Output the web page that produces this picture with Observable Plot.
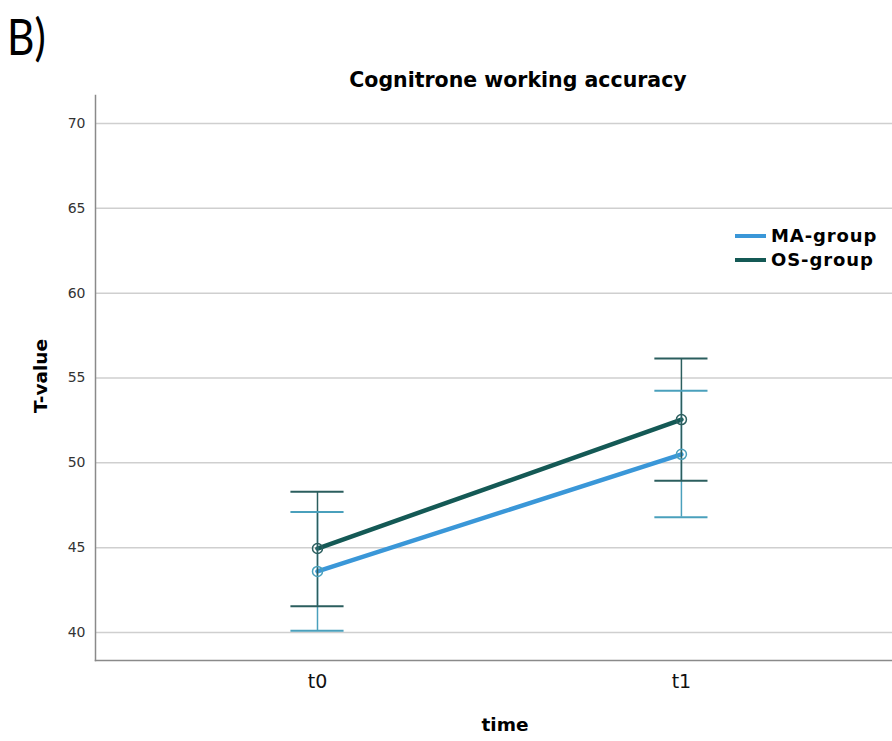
<!DOCTYPE html>
<html>
<head>
<meta charset="utf-8">
<script src="https://cdn.jsdelivr.net/npm/d3@7"></script>
<script src="https://cdn.jsdelivr.net/npm/@observablehq/plot@0.6"></script>
<style>
  body { margin: 0; background: #fff; }
  #wrap { position: relative; width: 892px; height: 741px; overflow: hidden; font-family: "DejaVu Sans", sans-serif; }
  #wrap svg { position: absolute; left: 0; top: 0; }
  .abs { position: absolute; white-space: nowrap; color: #000; }
  #panel { left: 7px; top: 6px; font-family: Lato, "Open Sans", sans-serif; font-size: 50px; line-height: 60px; transform: scaleX(0.85); transform-origin: left top; }
  #title { left: 0; width: 1036px; top: 67px; text-align: center; font-weight: bold; font-size: 20.5px; line-height: 26px; }
  #ylab { left: 40px; top: 376px; transform: translate(-50%, -50%) rotate(-90deg); font-weight: bold; font-size: 18.5px; }
  #xlab { left: 505px; top: 724px; transform: translate(-50%, -50%); font-weight: bold; font-size: 18.5px; }
  #legend { left: 735px; top: 224px; font-weight: bold; font-size: 18px; line-height: 24px; letter-spacing: 0.9px; }
  #legend .row { display: flex; align-items: center; }
  #legend .sw { width: 31px; height: 4px; margin-right: 5px; }
</style>
</head>
<body>
<div id="wrap">
  <div id="chart"></div>
  <div class="abs" id="panel">B)</div>
  <div class="abs" id="title">Cognitrone working accuracy</div>
  <div class="abs" id="ylab">T-value</div>
  <div class="abs" id="xlab">time</div>
  <div class="abs" id="legend"></div>
</div>
<script>
const times = ["t0", "t1"];
const groups = ["MA-group", "OS-group"];
const maMean = [43.6, 50.5];
const maLow = [40.1, 46.8];
const maHigh = [47.1, 54.25];
const osMean = [44.95, 52.55];
const osLow = [41.55, 48.95];
const osHigh = [48.3, 56.15];
const yTicks = [40, 45, 50, 55, 60, 65, 70];

const lineColor = {"MA-group": "#3a97d8", "OS-group": "#145955"};
const barColor = {"MA-group": "#4aa0bc", "OS-group": "#2b5e5e"};

const rows = [];
times.forEach((t, i) => {
  rows.push({time: t, xi: i, group: "MA-group", mean: maMean[i], low: maLow[i], high: maHigh[i]});
  rows.push({time: t, xi: i, group: "OS-group", mean: osMean[i], low: osLow[i], high: osHigh[i]});
});
const cap = 0.073;

const plot = Plot.plot({
  width: 892,
  height: 741,
  marginLeft: 95,
  marginRight: 0,
  marginTop: 95,
  marginBottom: 81,
  style: {fontFamily: "DejaVu Sans, sans-serif", background: "transparent"},
  x: {domain: [-0.61, 1.58], axis: null},
  y: {domain: [38.35, 71.65], axis: null},
  marks: [
    Plot.gridY(yTicks, {stroke: "#cfcfcf", strokeOpacity: 1, strokeWidth: 1.5}),
    Plot.axisY(yTicks, {tickSize: 0, tickPadding: 10, fontSize: 14, fill: "#333", tickFormat: d => d}),
    Plot.axisX([0, 1], {tickSize: 0, tickPadding: 14, fontSize: 19, fill: "#111", tickFormat: i => times[i], label: null}),
    Plot.frame({anchor: "left", stroke: "#8a8a8a", strokeWidth: 1.5}),
    Plot.frame({anchor: "bottom", stroke: "#8a8a8a", strokeWidth: 1.5}),
    Plot.line(rows, {x: "xi", y: "mean", z: "group", stroke: d => lineColor[d.group], strokeWidth: 4.5}),
    Plot.ruleX(rows, {x: "xi", y1: "low", y2: "high", stroke: d => barColor[d.group], strokeWidth: 1.5}),
    Plot.ruleY(rows, {y: "high", x1: d => d.xi - cap, x2: d => d.xi + cap, stroke: d => barColor[d.group], strokeWidth: 2}),
    Plot.ruleY(rows, {y: "low", x1: d => d.xi - cap, x2: d => d.xi + cap, stroke: d => barColor[d.group], strokeWidth: 2}),
    Plot.dot(rows, {x: "xi", y: "mean", r: 5, stroke: d => barColor[d.group], strokeWidth: 1.5, fill: "none"})
  ]
});
document.getElementById("chart").appendChild(plot);

const legend = document.getElementById("legend");
groups.forEach(g => {
  const row = document.createElement("div");
  row.className = "row";
  const sw = document.createElement("span");
  sw.className = "sw";
  sw.style.background = lineColor[g];
  const lab = document.createElement("span");
  lab.textContent = g;
  row.appendChild(sw);
  row.appendChild(lab);
  legend.appendChild(row);
});
</script>
</body>
</html>
